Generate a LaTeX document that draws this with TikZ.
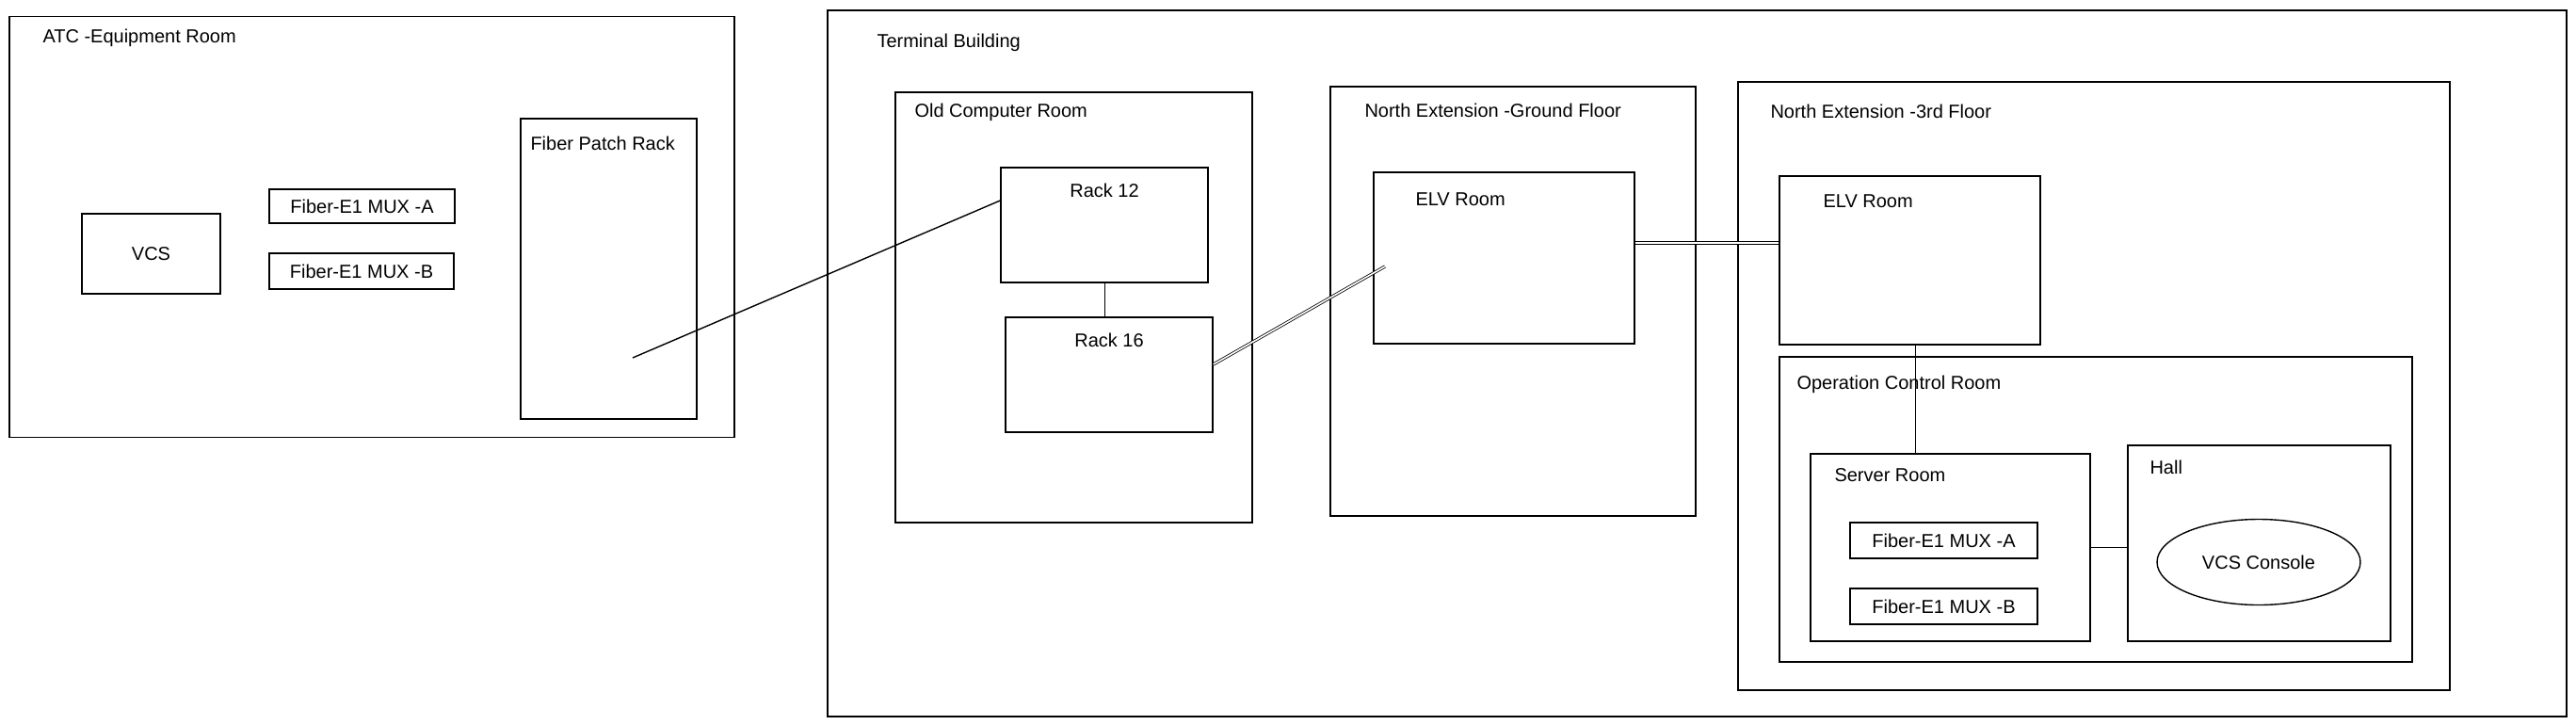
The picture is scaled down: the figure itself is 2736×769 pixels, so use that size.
\documentclass[tikz,border=0pt]{standalone}
\usepackage{fontspec}
\setmainfont{Liberation Sans}
\usetikzlibrary{positioning,shapes.geometric}

\tikzstyle{room}=[draw,line width=1.4pt,inner sep=0pt,font=\fontsize{20}{24}\selectfont]
\tikzstyle{tag}=[inner sep=0pt,font=\fontsize{20}{24}\selectfont]
\tikzstyle{cable}=[draw,line width=1.4pt]
\tikzstyle{trunk}=[draw,line width=0.8pt,double,double distance=1.6pt]

\begin{document}
\begin{tikzpicture}[x=1pt,y=-1pt]
	\useasboundingbox (0,0) rectangle (2736,769);
	% ATC building
	\node[room,minimum width=770pt,minimum height=447pt] (atc) at (395,241) {};
	\node[tag,below right=14pt and 36pt of atc.north west] {ATC -Equipment Room};
	\node[room,minimum width=147pt,minimum height=85pt] (vcs) at (160.5,269.5) {VCS};
	\node[room,minimum width=197pt,minimum height=36pt] (muxa) at (384.5,219) {Fiber-E1 MUX -A};
	\node[room,minimum width=196pt,minimum height=38pt] (muxb) at (384,288) {Fiber-E1 MUX -B};
	\node[room,minimum width=187pt,minimum height=319pt] (fpr) at (646.5,285.5) {};
	\node[tag,below right=20pt and 11pt of fpr.north west] {Fiber Patch Rack};
	\coordinate (fprport) at (672,380);

	% terminal building
	\node[room,minimum width=1847pt,minimum height=750pt] (term) at (1802.5,386) {};
	\node[tag,below right=26pt and 53pt of term.north west] {Terminal Building};

	\node[room,minimum width=379pt,minimum height=457pt] (ocr) at (1140.5,326.5) {};
	\node[tag,below right=13pt and 21pt of ocr.north west] {Old Computer Room};
	\node[room,minimum width=220pt,minimum height=122pt] (r12) at (1173,239) {};
	\node[tag,below=18pt of r12.north] {Rack 12};
	\node[room,minimum width=220pt,minimum height=122pt] (r16) at (1178,398) {};
	\node[tag,below=18pt of r16.north] {Rack 16};

	\node[room,minimum width=388pt,minimum height=456pt] (gf) at (1607,320) {};
	\node[tag,below right=19pt and 37pt of gf.north west] {North Extension -Ground Floor};
	\node[room,minimum width=277pt,minimum height=182pt] (elvg) at (1597.5,274) {};
	\node[tag,below right=22pt and 45pt of elvg.north west] {ELV Room};
	\coordinate (elvgport) at (1471,283);
	\coordinate (gfout) at ([yshift=16pt]elvg.east);

	\node[room,minimum width=756pt,minimum height=646pt] (nf3) at (2224,410) {};
	\node[tag,below right=25pt and 35pt of nf3.north west] {North Extension -3rd Floor};
	\node[room,minimum width=277pt,minimum height=179pt] (elv3) at (2028.5,276.5) {};
	\node[tag,below right=20pt and 47pt of elv3.north west] {ELV Room};

	\node[room,minimum width=672pt,minimum height=324pt] (opc) at (2226,541) {};
	\node[tag,below right=20pt and 19pt of opc.north west] {Operation Control Room};
	\node[room,minimum width=297pt,minimum height=199pt] (srv) at (2071.5,581.5) {};
	\node[tag,below right=16pt and 26pt of srv.north west] {Server Room};
	\node[room,minimum width=199pt,minimum height=38pt] (muxc) at (2064.5,574) {Fiber-E1 MUX -A};
	\node[room,minimum width=199pt,minimum height=38pt] (muxd) at (2064.5,644) {Fiber-E1 MUX -B};
	\node[room,minimum width=279pt,minimum height=208pt] (hall) at (2399.5,577) {};
	\node[tag,below right=16pt and 24pt of hall.north west] {Hall};
	\node[room,ellipse,minimum width=216pt,minimum height=91pt] (vcsc) at (2399,597) {VCS Console};

	% cables between the rooms
	\path[cable] (fprport) -- ([yshift=26pt]r12.west);
	\path[cable,line width=0.8pt] (r12.south) -- (r12.south |- r16.north);
	\path[trunk] ([yshift=11pt]r16.east) -- (elvgport);
	\path[trunk] (gfout) -- (gfout -| elv3.west);
	\path[cable,line width=1pt] ([xshift=6pt]elv3.south) -- ([xshift=6pt]elv3.south |- srv.north);
	\path[cable] (srv.east) -- (srv.east -| hall.west);
\end{tikzpicture}
\end{document}
